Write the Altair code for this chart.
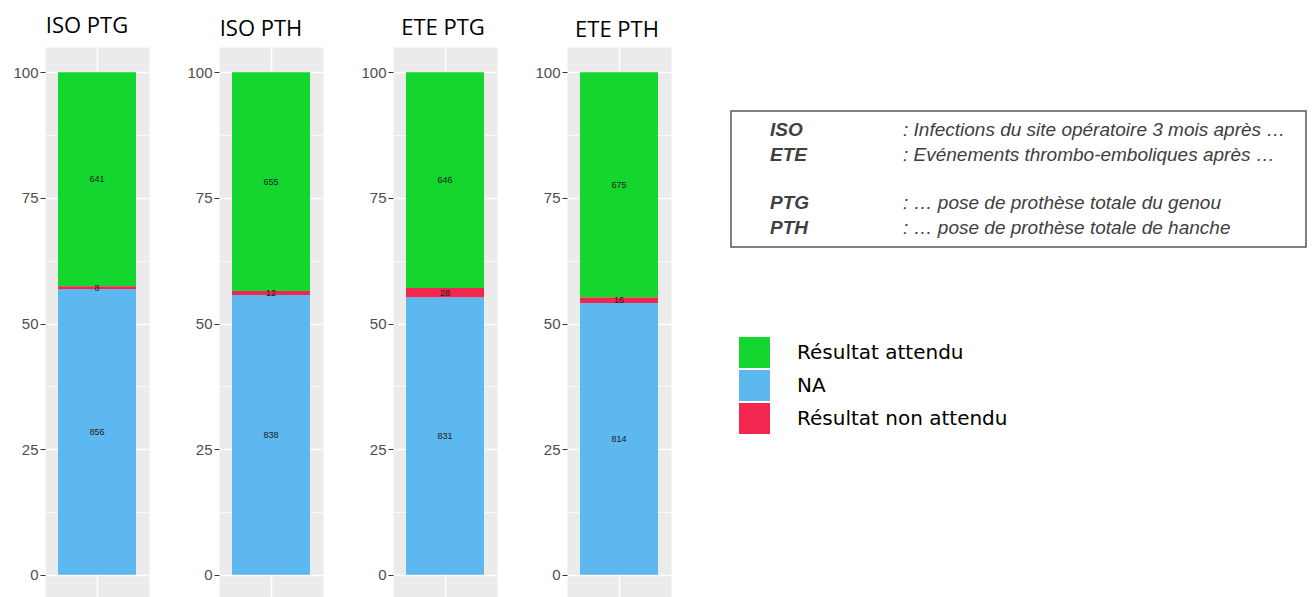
import altair as alt
import pandas as pd

# ---- data ----
panels = ["ISO PTG", "ISO PTH", "ETE PTG", "ETE PTH"]
categories = ["Résultat attendu", "NA", "Résultat non attendu"]
attendu = [641, 655, 646, 675]
non_attendu = [8, 12, 28, 16]
na_values = [856, 838, 831, 814]
colors = ["#14D62F", "#5CB8EF", "#F2264F"]
stack_order = {"NA": 0, "Résultat non attendu": 1, "Résultat attendu": 2}

terms = ["ISO", "ETE", "PTG", "PTH"]
definitions = [
    ": Infections du site opératoire 3 mois après …",
    ": Evénements thrombo-emboliques après …",
    ": … pose de prothèse totale du genou",
    ": … pose de prothèse totale de hanche",
]
term_rows = ["ISO", "ETE", " ", "PTG", "PTH"]

rows = []
for i, p in enumerate(panels):
    for cat, vals in zip(categories, [attendu, na_values, non_attendu]):
        rows.append({"panel": p, "cat": cat, "n": vals[i], "order": stack_order[cat]})
df = pd.DataFrame(rows)
box_df = pd.DataFrame({"term": terms, "definition": definitions})

# ---- styling ----
title_dx = [-10, -10, -2, -2]
title_off = [15, 12, 13, 11]

y_axis = alt.Axis(
    values=[0, 12.5, 25, 37.5, 50, 62.5, 75, 87.5, 100],
    labelExpr="datum.value % 25 === 0 ? datum.label : ''",
    labelOverlap=False,
    labelFont="Liberation Sans",
    labelFontSize=15,
    labelColor="#4D4D4D",
    labelPadding=2,
    tickSize=5,
    tickColor="#333333",
    tickOpacity={"condition": {"test": "datum.value % 25 === 0", "value": 1}, "value": 0},
    domain=False,
    grid=True,
    gridColor="white",
    gridWidth={"condition": {"test": "datum.value % 25 === 0", "value": 1.5}, "value": 0.7},
    title=None,
)
x_axis = alt.Axis(labels=False, ticks=False, domain=False, title=None,
                  grid=True, gridColor="white", gridWidth=1.5, bandPosition=0.5)

color_scale = alt.Scale(domain=categories, range=colors)
legend = alt.Legend(
    title=None, orient="none", legendX=694, legendY=290,
    symbolType="square", symbolSize=961, symbolStrokeWidth=0, symbolOpacity=1,
    labelFont="DejaVu Sans", labelFontSize=20, labelColor="black",
    labelOffset=27, rowPadding=2, labelLimit=400,
)


def panel_chart(i, p):
    base = (
        alt.Chart(df)
        .transform_filter(alt.datum.panel == p)
        .transform_joinaggregate(total="sum(n)")
        .transform_calculate(pct="100 * datum.n / datum.total")
        .transform_stack(stack="pct", as_=["y0", "y1"], groupby=["panel"],
                         sort=[alt.SortField("order", order="ascending")])
        .transform_calculate(mid="(datum.y0 + datum.y1) / 2")
    )
    x = alt.X("panel:N", scale=alt.Scale(paddingInner=0, paddingOuter=1 / 6), axis=x_axis)
    yscale = alt.Scale(domain=[-5, 105], nice=False, zero=False)
    bars = base.mark_bar().encode(
        x=x,
        y=alt.Y("y0:Q", scale=yscale, axis=y_axis),
        y2="y1:Q",
        color=alt.Color("cat:N", scale=color_scale, legend=legend),
    )
    labels = base.mark_text(fontSize=9, color="#1a1a1a", font="Liberation Sans").encode(
        x=x, y=alt.Y("mid:Q", scale=yscale), text="n:Q"
    )
    return alt.layer(bars, labels).properties(
        width=104, height=553,
        view=alt.ViewBackground(fill="#EBEBEB", stroke="transparent"),
        title=alt.TitleParams(p, font="Open Sans", fontSize=22, fontWeight="normal",
                              color="black", baseline="alphabetic",
                              offset=title_off[i], dx=title_dx[i], dy=23),
    )


bars_row = alt.hconcat(*[panel_chart(i, p) for i, p in enumerate(panels)], spacing=36)

spacer = alt.Chart(pd.DataFrame({"s": [0]})).mark_text(text="").encode(
    x=alt.value(0), y=alt.value(0)
).properties(width=575, height=62, view=alt.ViewBackground(stroke="transparent"))

yrow = alt.Y("term:N", scale=alt.Scale(type="point", domain=term_rows, padding=0.8), axis=None)
term_text = alt.Chart(box_df).mark_text(
    align="left", baseline="middle", font="Liberation Sans", fontSize=19,
    fontStyle="italic", fontWeight="bold", color="#404040"
).encode(x=alt.value(39), y=yrow, text="term:N")
def_text = alt.Chart(box_df).mark_text(
    align="left", baseline="middle", font="Liberation Sans", fontSize=19,
    fontStyle="italic", color="#404040"
).encode(x=alt.value(172), y=yrow, text="definition:N")
box = alt.layer(term_text, def_text).properties(
    width=575, height=136,
    view=alt.ViewBackground(stroke="#555555", strokeWidth=1.5, fill="white"),
)

right_col = alt.vconcat(spacer, box, spacing=0)

chart = alt.hconcat(bars_row, right_col, spacing=58).properties(
    padding={"left": 4, "top": 6, "right": 0, "bottom": 0}
).configure(background="white")

chart.save("out.html", embed_options={"renderer": "svg", "actions": False})
